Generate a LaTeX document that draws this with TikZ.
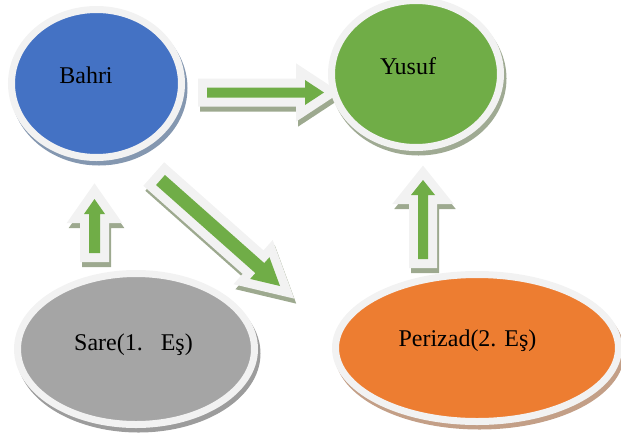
\documentclass[tikz,border=0pt]{standalone}
\usepackage{fontspec}
\setmainfont{Liberation Serif}
\usetikzlibrary{shapes.geometric,calc}

\definecolor{bahriblue}{HTML}{4472C4}
\definecolor{bahrishade}{HTML}{8497B0}
\definecolor{yusufgreen}{HTML}{70AD47}
\definecolor{yusufshade}{HTML}{9FAA93}
\definecolor{saregray}{HTML}{A5A5A5}
\definecolor{sareshade}{HTML}{9C9C9C}
\definecolor{perizadorange}{HTML}{ED7D31}
\definecolor{perizadshade}{HTML}{C39F87}
\definecolor{rimwhite}{HTML}{F2F2F2}
\definecolor{arrowgreen}{HTML}{70AD47}
\definecolor{arrowshade}{HTML}{9DA98F}

\tikzset{
  person/.style={ellipse, draw=rimwhite, line width=7pt, inner sep=0pt},
  shade under/.style={preaction={draw=#1, fill=#1, line width=7pt,
      transform canvas={shift={(2.5pt,-4.5pt)}}}},
  arrow shadow/.style={draw=arrowshade, fill=arrowshade, line width=18pt, line join=miter},
  arrow rim/.style={draw=rimwhite, line width=18pt, line join=miter},
  arrow body/.style={fill=arrowgreen}
}

% block arrow: from, tip, shaft half width, head half width, head length
\newcommand{\blockarrow}[5]{%
  \coordinate (ah) at ($(#2)!#5!(#1)$);
  \path[arrow body,
        preaction={arrow shadow, transform canvas={shift={(2pt,-5pt)}}},
        preaction={arrow rim}]
    ($(#1)!#3!90:(#2)$) -- ($(ah)!#3!90:(#2)$) -- ($(ah)!#4!90:(#2)$) -- (#2)
    -- ($(ah)!#4!-90:(#2)$) -- ($(ah)!#3!-90:(#2)$) -- ($(#1)!#3!-90:(#2)$) -- cycle;
}

\begin{document}
\begin{tikzpicture}[x=1pt,y=-1pt,font=\fontsize{24}{28}\selectfont]
  \useasboundingbox (0,0) rectangle (621,437);

  \coordinate (b2y from) at (207,92.5);
  \coordinate (b2y to)   at (324,92.5);
  \coordinate (b2p from) at (160.5,180);
  \coordinate (b2p to)   at (280,286);
  \coordinate (s2b from) at (94.5,253);
  \coordinate (s2b to)   at (94.5,199);
  \coordinate (p2y from) at (423,259);
  \coordinate (p2y to)   at (423,180);

  \blockarrow{b2y from}{b2y to}{5pt}{12.5pt}{19pt}
  \blockarrow{b2p from}{b2p to}{6.7pt}{14.5pt}{27pt}
  \blockarrow{s2b from}{s2b to}{5.5pt}{10.5pt}{15pt}
  \blockarrow{p2y from}{p2y to}{5pt}{12pt}{15pt}

  \node[person, fill=bahriblue, shade under=bahrishade,
        minimum width=170pt, minimum height=148pt,
        label={[shift={(-10.5pt,8.5pt)}]center:Bahri}] (bahri) at (96.5,83.5) {};
  \node[person, fill=yusufgreen, shade under=yusufshade,
        minimum width=169pt, minimum height=147pt,
        label={[shift={(-8pt,8pt)}]center:Yusuf}] (yusuf) at (416,74) {};
  \node[person, fill=saregray, shade under=sareshade,
        minimum width=237pt, minimum height=151pt,
        label={[shift={(-2.5pt,4pt)}]center:Sare(1.\hspace{0.75em}Eş)}] (sare) at (136,349) {};
  \node[person, fill=perizadorange, shade under=perizadshade,
        minimum width=283pt, minimum height=147pt,
        label={[shift={(-9.5pt,7pt)}]center:Perizad(2. Eş)}] (perizad) at (477,348) {};

\end{tikzpicture}
\end{document}
